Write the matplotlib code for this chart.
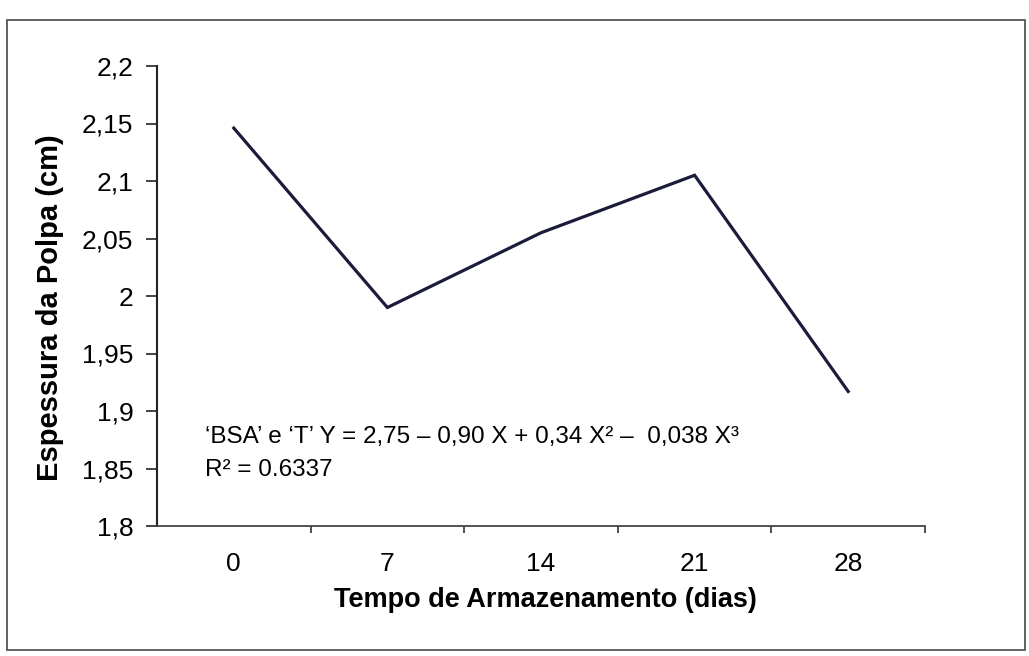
import matplotlib.pyplot as plt
from matplotlib.patches import Rectangle
from matplotlib.ticker import FixedLocator, NullFormatter

plt.rcParams['font.family'] = ['Liberation Sans', 'DejaVu Sans']

# data
dias = ['0', '7', '14', '21', '28']
espessura = [2.146, 1.990, 2.055, 2.105, 1.917]
y_ticks = [1.8, 1.85, 1.9, 1.95, 2.0, 2.05, 2.1, 2.15, 2.2]
y_labels = ['1,8', '1,85', '1,9', '1,95', '2', '2,05', '2,1', '2,15', '2,2']

W, H = 1029, 656
fig = plt.figure(figsize=(W / 100, H / 100), dpi=100)

# plot area in pixels: left, right, top, bottom
L, R, T, B = 157, 925, 66, 526
ax = fig.add_axes([L / W, 1 - B / H, (R - L) / W, (B - T) / H])

x = list(range(len(dias)))
ax.plot(x, espessura, color='#1b1b3c', lw=2.3, solid_joinstyle='miter')

ax.set_xlim(-0.5, len(dias) - 0.5)
ax.set_ylim(1.8, 2.2)

# category axis: tick marks between categories, labels at centres
ax.xaxis.set_major_locator(FixedLocator([i + 0.5 for i in x]))
ax.xaxis.set_major_formatter(NullFormatter())
ax.xaxis.set_minor_locator(FixedLocator(x))
ax.set_xticklabels(dias, minor=True)
ax.tick_params(axis='x', which='major', direction='out', length=5, width=1.2, color='#333333')
ax.tick_params(axis='x', which='minor', length=0, pad=19, labelsize=19)

ax.set_yticks(y_ticks)
ax.set_yticklabels(y_labels)
ax.tick_params(axis='y', direction='out', length=8, width=1.2, pad=9, labelsize=19, color='#222222')

for s in ['top', 'right']:
    ax.spines[s].set_visible(False)
ax.spines['left'].set_linewidth(1.5)
ax.spines['left'].set_color('#222222')
ax.spines['bottom'].set_linewidth(1.3)
ax.spines['bottom'].set_color('#444444')

fig.text(50 / W, 1 - 308 / H, 'Espessura da Polpa (cm)', rotation=90,
         ha='center', va='center', fontsize=21, fontweight='bold')
fig.text(545 / W, 1 - 600 / H, 'Tempo de Armazenamento (dias)',
         ha='center', va='center', fontsize=19.5, fontweight='bold')

fig.text(205 / W, 1 - 443 / H,
         '\u2018BSA\u2019 e \u2018T\u2019 Y = 2,75 \u2013 0,90 X + 0,34 X\u00b2 \u2013  0,038 X\u00b3',
         ha='left', va='baseline', fontsize=17.5)
fig.text(205 / W, 1 - 476 / H, 'R\u00b2 = 0.6337', ha='left', va='baseline', fontsize=17.5)

# outer chart frame
fig.patches.append(Rectangle((7 / W, 1 - 650 / H), (1025 - 7) / W, (650 - 20) / H,
                             transform=fig.transFigure, fill=False,
                             edgecolor='#555555', lw=1.3))

fig.savefig('out.png', dpi=100)
